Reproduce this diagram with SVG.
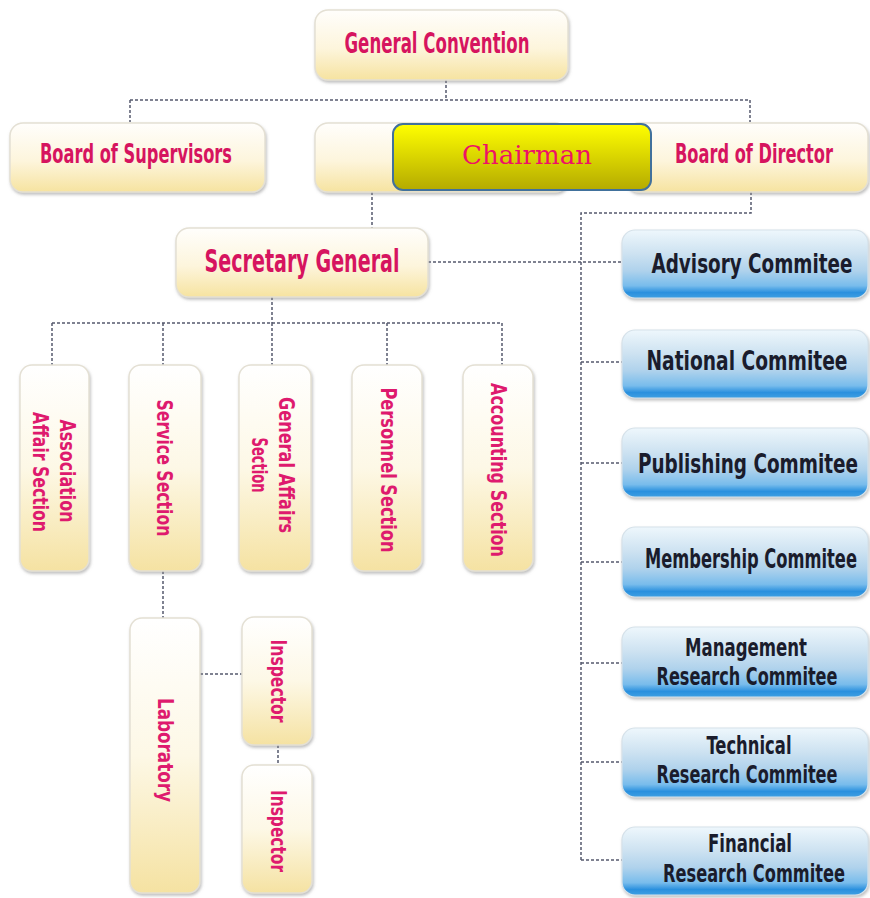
<svg xmlns="http://www.w3.org/2000/svg" width="870" height="898" viewBox="0 0 870 898">
<defs>
<linearGradient id="gy" x1="0" y1="0" x2="0" y2="1">
<stop offset="0" stop-color="#fffefc"/>
<stop offset="0.55" stop-color="#fdf5dc"/>
<stop offset="1" stop-color="#f6e3a0"/>
</linearGradient>
<linearGradient id="gv" x1="0" y1="0" x2="0" y2="1">
<stop offset="0" stop-color="#ffffff"/>
<stop offset="0.5" stop-color="#fdf8e6"/>
<stop offset="1" stop-color="#f5e2a2"/>
</linearGradient>
<linearGradient id="gb" x1="0" y1="0" x2="0" y2="1">
<stop offset="0" stop-color="#eef7fc"/>
<stop offset="0.35" stop-color="#cde2f1"/>
<stop offset="0.6" stop-color="#afd2ec"/>
<stop offset="0.82" stop-color="#78bcec"/>
<stop offset="0.92" stop-color="#2a90de"/>
<stop offset="1" stop-color="#3f9fe2"/>
</linearGradient>
<linearGradient id="gc" x1="0" y1="0" x2="0" y2="1">
<stop offset="0" stop-color="#ffff00"/>
<stop offset="1" stop-color="#b4aa00"/>
</linearGradient>
<filter id="sh" x="-10%" y="-10%" width="120%" height="130%">
<feDropShadow dx="1" dy="2" stdDeviation="1.6" flood-color="#8a8a8a" flood-opacity="0.55"/>
</filter>
<style>
.ybox{fill:url(#gy);stroke:#e4e0d4;stroke-width:1.5;filter:url(#sh)}
.vbox{fill:url(#gv);stroke:#e4e0d4;stroke-width:1.5;filter:url(#sh)}
.bbox{fill:url(#gb);stroke:#d6e2ea;stroke-width:1.2;filter:url(#sh)}
.pt{font-family:"Liberation Sans Narrow","DejaVu Sans Condensed","Liberation Sans",sans-serif;font-weight:bold;fill:#d6145f;text-anchor:middle}
.st{font-family:"Liberation Sans Narrow","DejaVu Sans Condensed","Liberation Sans",sans-serif;font-weight:bold;fill:#de1a6e;text-anchor:middle;font-size:22px}
.bt{font-family:"Liberation Sans Narrow","DejaVu Sans Condensed","Liberation Sans",sans-serif;font-weight:bold;fill:#1a1c2c;text-anchor:middle;font-size:27px}
.b2{font-size:24px}
.ct{font-family:"DejaVu Serif","Liberation Serif",serif;font-size:26px;fill:#ee1166;text-anchor:middle}
.cn{fill:none;stroke:#565a6e;stroke-width:1.5;stroke-dasharray:3 2}
</style>
</defs>
<rect width="870" height="898" fill="#ffffff"/>

<g id="connectors">
<path class="cn" d="M446 80V100M130 100H750M130 100V122M750 100V122"/>
<path class="cn" d="M372 192V228"/>
<path class="cn" d="M751 192V213H581V860"/>
<path class="cn" d="M428 262H622"/>
<path class="cn" d="M581 362H622M581 463H622M581 562H622M581 663H622M581 762H622M581 860H622"/>
<path class="cn" d="M272 297V323M52 323H502M52 323V365M163 323V365M272 323V365M387 323V365M502 323V365"/>
<path class="cn" d="M163 571V618"/>
<path class="cn" d="M200 674H242"/>
<path class="cn" d="M278 745V765"/>
</g>

<g id="general-convention">
<rect class="ybox" x="315" y="10" width="253" height="70" rx="13"/>
<text class="pt" x="437" y="53" font-size="28" textLength="185" lengthAdjust="spacingAndGlyphs">General Convention</text>
</g>
<g id="board-of-supervisors">
<rect class="ybox" x="10" y="123" width="255" height="69" rx="13"/>
<text class="pt" x="136" y="163" font-size="27" textLength="192" lengthAdjust="spacingAndGlyphs">Board of Supervisors</text>
</g>
<g id="middle-box">
<rect class="ybox" x="315" y="123" width="253" height="69" rx="13"/>
</g>
<g id="board-of-director">
<rect class="ybox" x="626" y="123" width="242" height="69" rx="13"/>
<text class="pt" x="754" y="163" font-size="27" textLength="158" lengthAdjust="spacingAndGlyphs">Board of Director</text>
</g>
<g id="chairman">
<rect x="393" y="124" width="258" height="66" rx="10" fill="url(#gc)" stroke="#41719c" stroke-width="2"/>
<text class="ct" x="527" y="164" textLength="130" lengthAdjust="spacingAndGlyphs">Chairman</text>
</g>
<g id="secretary-general">
<rect class="ybox" x="176" y="228" width="252" height="69" rx="13"/>
<text class="pt" x="302" y="272" font-size="32" textLength="195" lengthAdjust="spacingAndGlyphs">Secretary General</text>
</g>

<g id="association-affair-section">
<rect class="vbox" x="20" y="365" width="69" height="206" rx="12"/>
<text class="st" transform="translate(60,471) rotate(90)" textLength="103" lengthAdjust="spacingAndGlyphs">Association</text>
<text class="st" transform="translate(33,472) rotate(90)" textLength="120" lengthAdjust="spacingAndGlyphs">Affair Section</text>
</g>
<g id="service-section">
<rect class="vbox" x="129" y="365" width="72" height="206" rx="12"/>
<text class="st" transform="translate(157,468) rotate(90)" textLength="137" lengthAdjust="spacingAndGlyphs">Service Section</text>
</g>
<g id="general-affairs-section">
<rect class="vbox" x="239" y="365" width="72" height="206" rx="12"/>
<text class="st" transform="translate(279,465) rotate(90)" textLength="136" lengthAdjust="spacingAndGlyphs">General Affairs</text>
<text class="st" transform="translate(252,465) rotate(90)" textLength="55" lengthAdjust="spacingAndGlyphs">Section</text>
</g>
<g id="personnel-section">
<rect class="vbox" x="352" y="365" width="70" height="206" rx="12"/>
<text class="st" transform="translate(381,470) rotate(90)" textLength="165" lengthAdjust="spacingAndGlyphs">Personnel Section</text>
</g>
<g id="accounting-section">
<rect class="vbox" x="463" y="365" width="70" height="206" rx="12"/>
<text class="st" transform="translate(491,470) rotate(90)" textLength="174" lengthAdjust="spacingAndGlyphs">Accounting Section</text>
</g>

<g id="laboratory">
<rect class="vbox" x="130" y="618" width="70" height="275" rx="12"/>
<text class="st" transform="translate(158,750) rotate(90)" textLength="104" lengthAdjust="spacingAndGlyphs">Laboratory</text>
</g>
<g id="inspector-1">
<rect class="vbox" x="242" y="617" width="70" height="128" rx="12"/>
<text class="st" transform="translate(271,681) rotate(90)" textLength="83" lengthAdjust="spacingAndGlyphs">Inspector</text>
</g>
<g id="inspector-2">
<rect class="vbox" x="242" y="765" width="70" height="128" rx="12"/>
<text class="st" transform="translate(271,831) rotate(90)" textLength="82" lengthAdjust="spacingAndGlyphs">Inspector</text>
</g>

<g id="advisory-commitee">
<rect class="bbox" x="622" y="230" width="246" height="68" rx="13"/>
<text class="bt" x="752" y="273" textLength="201" lengthAdjust="spacingAndGlyphs">Advisory Commitee</text>
</g>
<g id="national-commitee">
<rect class="bbox" x="622" y="330" width="246" height="68" rx="13"/>
<text class="bt" x="747" y="370" textLength="201" lengthAdjust="spacingAndGlyphs">National Commitee</text>
</g>
<g id="publishing-commitee">
<rect class="bbox" x="622" y="428" width="246" height="69" rx="13"/>
<text class="bt" x="748" y="473" textLength="220" lengthAdjust="spacingAndGlyphs">Publishing Commitee</text>
</g>
<g id="membership-commitee">
<rect class="bbox" x="622" y="527" width="246" height="70" rx="13"/>
<text class="bt" x="751" y="568" textLength="212" lengthAdjust="spacingAndGlyphs">Membership Commitee</text>
</g>
<g id="management-research-commitee">
<rect class="bbox" x="622" y="627" width="246" height="70" rx="13"/>
<text class="bt b2" x="746" y="656" textLength="122" lengthAdjust="spacingAndGlyphs">Management</text>
<text class="bt b2" x="747" y="685" textLength="181" lengthAdjust="spacingAndGlyphs">Research Commitee</text>
</g>
<g id="technical-research-commitee">
<rect class="bbox" x="622" y="728" width="246" height="69" rx="13"/>
<text class="bt b2" x="749" y="754" textLength="85" lengthAdjust="spacingAndGlyphs">Technical</text>
<text class="bt b2" x="747" y="783" textLength="181" lengthAdjust="spacingAndGlyphs">Research Commitee</text>
</g>
<g id="financial-research-commitee">
<rect class="bbox" x="622" y="827" width="246" height="68" rx="13"/>
<text class="bt b2" x="750" y="852" textLength="84" lengthAdjust="spacingAndGlyphs">Financial</text>
<text class="bt b2" x="754" y="882" textLength="182" lengthAdjust="spacingAndGlyphs">Research Commitee</text>
</g>
</svg>
